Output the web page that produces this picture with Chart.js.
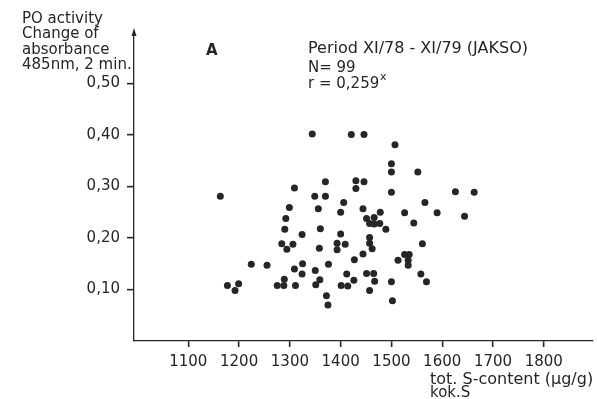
<!DOCTYPE html>
<html>
<head>
<meta charset="utf-8">
<script src="https://cdn.jsdelivr.net/npm/chart.js@4.4.1/dist/chart.umd.min.js"></script>
<style>
  html, body { margin: 0; padding: 0; background: #fff; }
  #wrap { width: 597px; height: 399px; }
</style>
</head>
<body>
<div id="wrap"><canvas id="chart" width="597" height="399"></canvas></div>
<script>
// tot. S-content (ug/g)
const sContent = [
  1344, 1421, 1446, 1507, 1500, 1500, 1552, 1370, 1430, 1446,
  1430, 1309, 1500, 1626, 1663, 1163, 1349, 1370, 1406, 1566,
  1299, 1356, 1444, 1400, 1478, 1526, 1590, 1644, 1451, 1466,
  1457, 1466, 1477, 1489, 1544, 1292, 1290, 1360, 1324, 1400,
  1457, 1457, 1462, 1393, 1409, 1393, 1358, 1561, 1284, 1306,
  1294, 1444, 1427, 1526, 1535, 1533, 1533, 1513, 1376, 1224,
  1255, 1309, 1325, 1324, 1350, 1412, 1451, 1465, 1558, 1359,
  1351, 1426, 1467, 1500, 1569, 1401, 1414, 1457, 1289, 1275,
  1288, 1311, 1177, 1199, 1192, 1372, 1375, 1502
];
// PO activity (change of absorbance)
const poActivity = [
  0.402, 0.401, 0.401, 0.381, 0.344, 0.328, 0.328, 0.309, 0.311, 0.309,
  0.296, 0.297, 0.289, 0.290, 0.289, 0.281, 0.281, 0.281, 0.269, 0.269,
  0.259, 0.257, 0.257, 0.250, 0.250, 0.249, 0.249, 0.242, 0.238, 0.240,
  0.228, 0.227, 0.228, 0.217, 0.229, 0.238, 0.217, 0.218, 0.207, 0.208,
  0.201, 0.190, 0.179, 0.190, 0.188, 0.177, 0.180, 0.189, 0.189, 0.188,
  0.178, 0.169, 0.158, 0.168, 0.168, 0.157, 0.147, 0.157, 0.149, 0.149,
  0.147, 0.140, 0.150, 0.130, 0.137, 0.130, 0.131, 0.131, 0.130, 0.119,
  0.109, 0.118, 0.116, 0.115, 0.115, 0.108, 0.107, 0.098, 0.120, 0.108,
  0.108, 0.108, 0.108, 0.111, 0.098, 0.088, 0.070, 0.078
];

const xTickValues = [1100, 1200, 1300, 1400, 1500, 1600, 1700, 1800];
const xTickLabels = ['1100', '1200', '1300', '1400', '1500', '1600', '1700', '1800'];
const yTickValues = [0.1, 0.2, 0.3, 0.4, 0.5];
const yTickLabels = ['0,10', '0,20', '0,30', '0,40', '0,50'];

const ink = '#262626';
const fontFamily = '"DejaVu Sans", sans-serif';
Chart.defaults.font.family = fontFamily;
Chart.defaults.color = ink;

const points = sContent.map((x, i) => ({ x: x, y: poActivity[i] }));

// text and the arrow head on the y axis
const annotations = {
    id: 'annotations',
    afterDraw(chart) {
        const ctx = chart.ctx;
        const yScale = chart.scales.y;
        ctx.save();
        ctx.fillStyle = ink;
        ctx.textBaseline = 'middle';
        ctx.textAlign = 'left';

        ctx.font = '15px ' + fontFamily;
        ctx.fillText('PO activity', 22, 19);
        ctx.fillText('Change of', 22, 34);
        ctx.fillText('absorbance', 22, 50);
        ctx.fillText('485nm, 2 min.', 22, 65);

        ctx.font = 'bold 15px ' + fontFamily;
        ctx.fillText('A', 206, 51);

        ctx.font = '16px ' + fontFamily;
        ctx.fillText('Period XI/78 - XI/79 (JAKSO)', 308, 49);
        ctx.font = '15px ' + fontFamily;
        ctx.fillText('N= 99', 308, 68);
        ctx.fillText('r = 0,259', 308, 84);
        ctx.font = '11px ' + fontFamily;
        ctx.fillText('x', 380, 77);

        ctx.font = '16px ' + fontFamily;
        ctx.fillText('tot. S-content (\u00b5g/g)', 430, 380);
        ctx.font = '15px ' + fontFamily;
        ctx.fillText('kok.S', 430, 393);

        // arrow head
        const ax = yScale.right;
        const top = chart.chartArea.top;
        ctx.beginPath();
        ctx.moveTo(ax, top - 4);
        ctx.lineTo(ax - 2.5, top + 4);
        ctx.lineTo(ax + 2.5, top + 4);
        ctx.closePath();
        ctx.fill();
        ctx.restore();
    }
};

new Chart(document.getElementById('chart'), {
    type: 'scatter',
    data: {
        datasets: [{
            data: points,
            backgroundColor: ink,
            borderWidth: 0,
            pointRadius: 3.5
        }]
    },
    options: {
        responsive: false,
        animation: false,
        devicePixelRatio: 1,
        layout: { padding: { top: 32, left: 0, right: 0, bottom: 0 } },
        plugins: {
            legend: { display: false },
            tooltip: { enabled: false }
        },
        scales: {
            x: {
                type: 'linear',
                min: 993,
                max: 1897,
                afterBuildTicks: axis => { axis.ticks = xTickValues.map(v => ({ value: v })); },
                afterFit: axis => { axis.height = 58; },
                border: { display: true, color: ink, width: 1.3 },
                grid: { drawOnChartArea: false, drawTicks: true, tickLength: 6, color: ink, lineWidth: 1.3, tickColor: ink, tickWidth: 1.6 },
                ticks: {
                    padding: 6,
                    font: { size: 15 },
                    color: ink,
                    maxRotation: 0,
                    callback: (v, i) => xTickLabels[i]
                }
            },
            y: {
                type: 'linear',
                min: 0,
                max: 0.6,
                afterBuildTicks: axis => { axis.ticks = yTickValues.map(v => ({ value: v })); },
                afterFit: axis => { axis.width = 134; },
                border: { display: true, color: ink, width: 1.3 },
                grid: { drawOnChartArea: false, drawTicks: true, tickLength: 7, color: ink, lineWidth: 1.3, tickColor: ink, tickWidth: 1.6 },
                ticks: {
                    padding: 7,
                    font: { size: 15 },
                    color: ink,
                    callback: (v, i) => yTickLabels[i]
                }
            }
        }
    },
    plugins: [annotations]
});
</script>
</body>
</html>
